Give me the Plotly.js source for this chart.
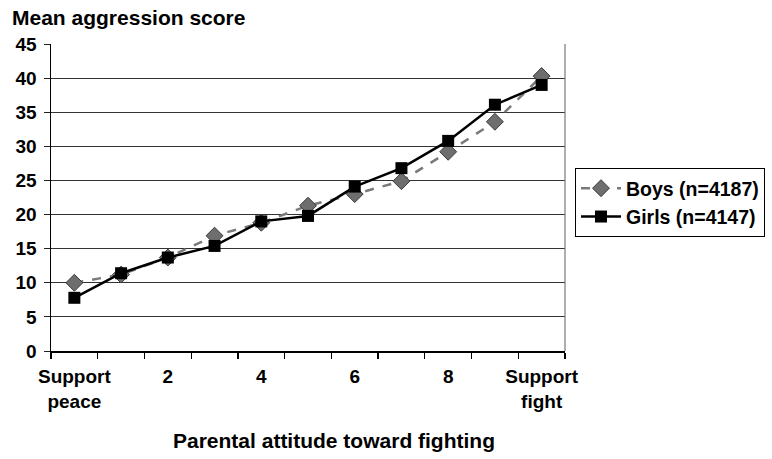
<!DOCTYPE html>
<html>
<head>
<meta charset="utf-8">
<script src="https://cdn.plot.ly/plotly-3.0.1.min.js"></script>
<style>html,body{margin:0;padding:0;background:#fff;}</style>
</head>
<body>
<div id="chart" style="width:772px;height:459px;"></div>
<script>
// Parental attitude scale positions (0 = support peace ... 10 = support fight)
const attitude = [0, 1, 2, 3, 4, 5, 6, 7, 8, 9, 10];
const tickVals = [0, 2, 4, 6, 8, 10];
const tickText = ["Support<br>peace", "2", "4", "6", "8", "Support<br>fight"];
const boysScores = [10.0, 11.2, 13.7, 16.9, 18.8, 21.3, 23.0, 24.9, 29.2, 33.6, 40.3];
const girlsScores = [7.8, 11.4, 13.7, 15.4, 19.0, 19.8, 24.1, 26.8, 30.8, 36.1, 39.0];
const boysName = "Boys (n=4187)";
const girlsName = "Girls (n=4147)";
const xTitle = "Parental attitude toward fighting";

const FONT = "Liberation Sans, Arial, sans-serif";

const traces = [
  {
    x: attitude, y: boysScores, name: boysName, type: "scatter", mode: "lines+markers",
    line: {color: "#7a7a7a", width: 2.5, dash: "dash"},
    marker: {symbol: "diamond", size: 13, color: "#6e6e6e", line: {color: "#3a3a3a", width: 1}}
  },
  {
    x: attitude, y: girlsScores, name: girlsName, type: "scatter", mode: "lines+markers",
    line: {color: "#000", width: 2.5},
    marker: {symbol: "square", size: 12, color: "#000"}
  }
];

const layout = {
  width: 772, height: 459,
  margin: {l: 51, r: 207, t: 44, b: 108},
  paper_bgcolor: "#fff", plot_bgcolor: "#fff",
  font: {family: FONT, color: "#000"},
  title: {
    text: "<b>Mean aggression score</b>",
    font: {family: FONT, size: 21, color: "#000"},
    xref: "container", yref: "container",
    x: 12/772, xanchor: "left", y: 1 - 18/459, yanchor: "middle"
  },
  xaxis: {
    range: [-0.5, 10.5],
    tickmode: "array", tickvals: tickVals, ticktext: tickText,
    ticks: "", showgrid: false, zeroline: false,
    showline: true, linecolor: "#000", linewidth: 1.5,
    tickfont: {family: FONT, size: 19, color: "#000", weight: "bold"},
    ticklabelstandoff: 8,
    minor: {tick0: -0.5, dtick: 1, ticks: "outside", ticklen: 6, tickcolor: "#000", tickwidth: 1.2, showgrid: false},
    fixedrange: true
  },
  yaxis: {
    range: [0, 45], dtick: 5, tick0: 0,
    ticks: "outside", ticklen: 6, tickcolor: "#222",
    showgrid: true, gridcolor: "#333", gridwidth: 1,
    zeroline: false,
    showline: true, linecolor: "#000", linewidth: 1.5,
    tickfont: {family: FONT, size: 19, color: "#000", weight: "bold"},
    ticklabelstandoff: 3,
    fixedrange: true
  },
  annotations: [
    {text: xTitle, xref: "paper", yref: "paper", x: (334 - 51) / 514, y: -(440 - 351) / 307,
     xanchor: "center", yanchor: "middle", showarrow: false,
     font: {family: FONT, size: 21, color: "#000", weight: "bold"}}
  ],
  legend: {
    xref: "container", yref: "container",
    x: 575/772, xanchor: "left", y: 1 - 168/459, yanchor: "top",
    bordercolor: "#000", borderwidth: 1, bgcolor: "#fff",
    font: {family: FONT, size: 19.5, color: "#000", weight: "bold"},
    tracegroupgap: 0, itemwidth: 40
  },
  shapes: [
    {type: "line", xref: "paper", yref: "paper", x0: 1, x1: 1, y0: 0, y1: 1, line: {color: "#777", width: 1.2}}
  ],
  showlegend: true
};

Plotly.newPlot("chart", traces, layout, {displayModeBar: false, staticPlot: true});
</script>
</body>
</html>
